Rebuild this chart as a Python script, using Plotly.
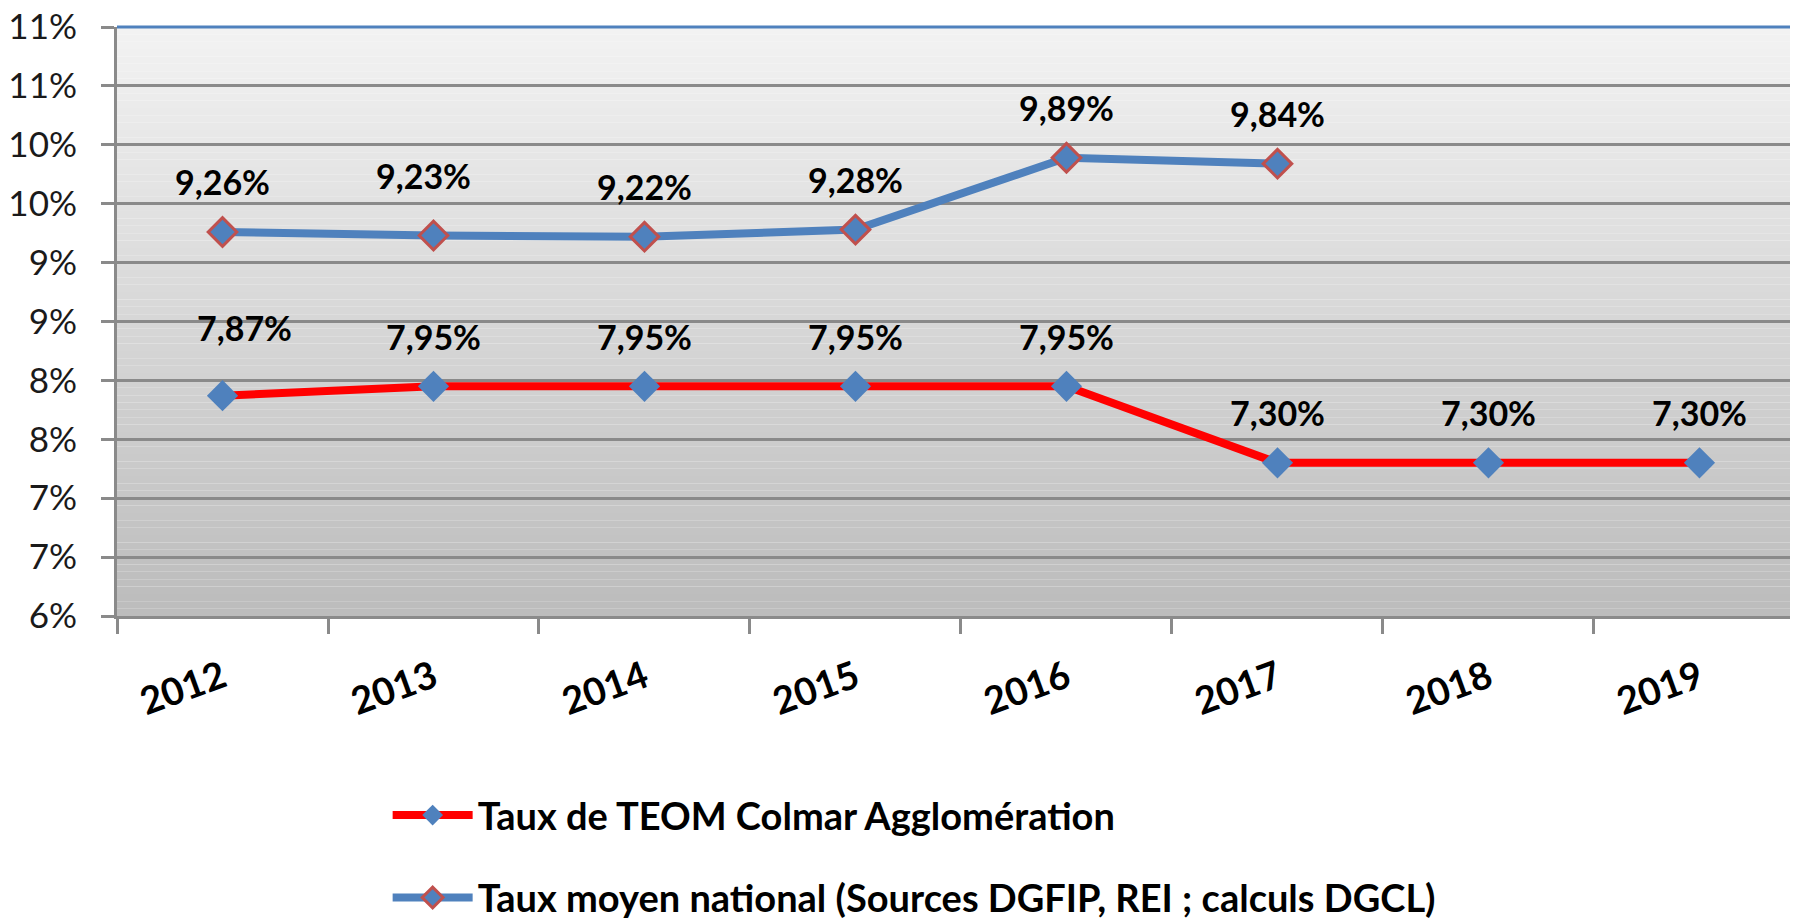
import plotly.graph_objects as go

# data
years = ["2012", "2013", "2014", "2015", "2016", "2017", "2018", "2019"]
teom_colmar = [7.87, 7.95, 7.95, 7.95, 7.95, 7.30, 7.30, 7.30]
taux_national = [9.26, 9.23, 9.22, 9.28, 9.89, 9.84]
y_tickvals = [6.0, 6.5, 7.0, 7.5, 8.0, 8.5, 9.0, 9.5, 10.0, 10.5, 11.0]
y_ticktext = ["6%", "7%", "7%", "8%", "8%", "9%", "9%", "10%", "10%", "11%", "11%"]

FONT = "Lato"
GRID = "#8a8a8a"
BLUE = "#4f81bd"


def fmt(v):
    return f"{v:.2f}".replace(".", ",") + "%"


fig = go.Figure()

fig.add_trace(go.Scatter(
    x=years, y=teom_colmar, mode="lines+markers",
    name="Taux de TEOM Colmar Agglomération", legendgroup="a",
    line=dict(color="#ff0000", width=8),
    marker=dict(symbol="diamond", size=24, color=BLUE, line=dict(width=0)),
))
fig.add_trace(go.Scatter(
    x=years[:len(taux_national)], y=taux_national, mode="lines+markers",
    name="Taux moyen national (Sources DGFIP, REI ; calculs DGCL)", legendgroup="b",
    line=dict(color=BLUE, width=8),
    marker=dict(symbol="diamond", size=22, color=BLUE, line=dict(width=3, color="#c0504d")),
))

# data labels (a couple were nudged by hand in the original)
nudges = {("a", 0): (22, 18), ("b", 1): (-10, 10)}
for key, ys in (("a", teom_colmar), ("b", taux_national)):
    for i, v in enumerate(ys):
        dx, dy = nudges.get((key, i), (0, 0))
        fig.add_annotation(x=i, y=v, xref="x", yref="y", text=fmt(v), showarrow=False,
                           xshift=dx, yshift=50 + dy, yanchor="middle",
                           font=dict(family=FONT, size=34, color="black", weight="bold"))

# vertical gradient background
n = 80
top, bot = (242, 242, 242), (188, 188, 188)
shapes = []
for k in range(n):
    t = k / (n - 1)
    c = tuple(round(bot[j] + (top[j] - bot[j]) * t) for j in range(3))
    shapes.append(dict(type="rect", xref="x domain", yref="y domain",
                       x0=0, x1=1, y0=k / n, y1=(k + 1) / n,
                       fillcolor=f"rgb{c}", line=dict(width=0), layer="below"))
# blue border along the top of the plot area
shapes.append(dict(type="line", xref="paper", yref="paper", x0=0, x1=1, y0=1, y1=1,
                   line=dict(color=BLUE, width=3), layer="above"))

fig.update_layout(
    width=1798, height=919,
    margin=dict(l=109, r=8, t=19, b=311, autoexpand=False),
    paper_bgcolor="white", plot_bgcolor="rgba(0,0,0,0)",
    shapes=shapes,
    font=dict(family=FONT, color="black"),
    showlegend=True,
    legend=dict(x=0.161, y=-0.285, xanchor="left", yanchor="top",
                font=dict(family=FONT, size=38, color="black", weight="bold"),
                itemwidth=80, tracegroupgap=30, bgcolor="rgba(0,0,0,0)"),
)

fig.update_xaxes(
    type="category", range=[-0.5, 7.467], tickson="boundaries", automargin=False,
    ticks="outside", ticklen=15, tickwidth=3, tickcolor=GRID,
    showline=True, linecolor=GRID, linewidth=3, showgrid=False,
    tickangle=-20, ticklabelstandoff=22, ticklabeloverflow="allow",
    tickfont=dict(family=FONT, size=38, color="black", weight="bold"),
)
fig.update_yaxes(
    range=[6, 11], tickmode="array", tickvals=y_tickvals, ticktext=y_ticktext,
    automargin=False, ticklabeloverflow="allow",
    ticks="outside", ticklen=13, tickwidth=3, tickcolor=GRID,
    showline=True, linecolor=GRID, linewidth=3,
    showgrid=True, gridcolor=GRID, gridwidth=3, zeroline=False,
    tickfont=dict(family=FONT, size=35, color="#1a1a1a"), ticklabelstandoff=17,
)

fig.write_html("out.html")
